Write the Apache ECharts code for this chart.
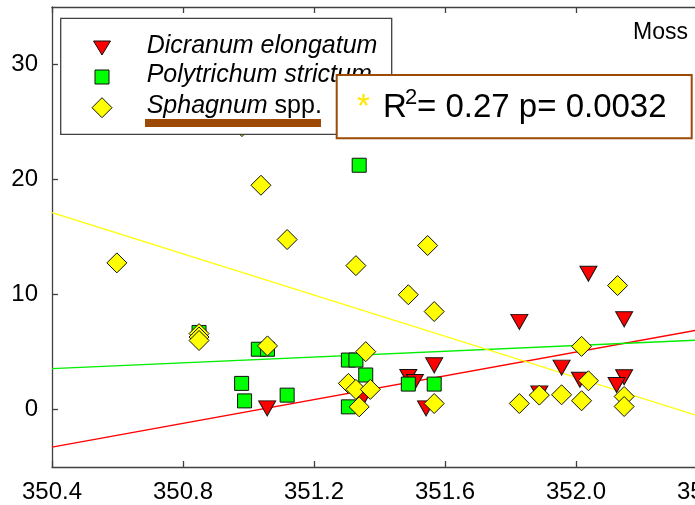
<!DOCTYPE html>
<html>
<head>
<meta charset="utf-8">
<script src="https://cdn.jsdelivr.net/npm/echarts@6/dist/echarts.min.js"></script>
<style>
  html, body { margin: 0; padding: 0; background: #fff; }
  #chart { width: 695px; height: 505px; }
</style>
</head>
<body>
<div id="chart"></div>
<script>
// Axis ticks
const xTicks = [350.4, 350.8, 351.2, 351.6, 352.0, 352.4];
const yTicks = [0, 10, 20, 30];

// Moss cover per species: [x, cover]
const dicranum = [
  [351.057, 0.1], [351.35, 1.0], [351.488, 2.82], [351.508, 2.39],
  [351.567, 3.84], [351.542, 0.1], [351.827, 7.62], [351.956, 3.64],
  [352.038, 11.8], [352.147, 7.84], [352.012, 2.59], [352.147, 2.81],
  [352.124, 2.13], [351.888, 1.4]
];
const polytrichum = [
  [350.849, 6.7], [351.03, 5.24], [351.058, 5.24], [350.979, 2.27],
  [350.988, 0.75], [351.118, 1.25], [351.338, 21.24], [351.305, 4.3],
  [351.328, 4.3], [351.358, 3.0], [351.305, 0.23], [351.488, 2.21],
  [351.567, 2.21]
];
const sphagnum = [
  [350.598, 12.75], [350.849, 6.6], [350.849, 6.3], [350.849, 6.0],
  [350.98, 24.6], [351.038, 19.5], [351.058, 5.53], [351.118, 14.78],
  [351.328, 12.51], [351.358, 5.03], [351.305, 2.27], [351.328, 1.75],
  [351.372, 1.75], [351.338, 0.23], [351.488, 9.98], [351.547, 14.26],
  [351.567, 8.52], [351.567, 0.52], [351.827, 0.52], [351.888, 1.25],
  [351.956, 1.28], [352.017, 0.76], [352.017, 5.49], [352.038, 2.5],
  [352.127, 10.78], [352.147, 1.13], [352.147, 0.26]
];

// Linear fits (end points)
const fitDicranum = [[350.4, -3.28], [352.4, 7.06]];
const fitPolytrichum = [[350.4, 3.55], [352.4, 6.07]];
const fitSphagnum = [[350.4, 17.12], [352.4, -0.8]];

const FONT = '"Liberation Sans", Arial, sans-serif';
const AXIS = '#404040';

const chart = echarts.init(document.getElementById('chart'), null, { renderer: 'canvas' });

function fitLine(data, color) {
  return {
    type: 'line', data: data, showSymbol: false, silent: true, z: 1,
    lineStyle: { color: color, width: 1.3 }, animation: false
  };
}
function scatter(data, symbol, size, color, rotate) {
  return {
    type: 'scatter', data: data, symbol: symbol, symbolSize: size,
    symbolRotate: rotate || 0, z: 2, animation: false,
    itemStyle: { color: color, borderColor: '#111', borderWidth: 1, opacity: 1 }
  };
}

chart.setOption({
  animation: false,
  backgroundColor: '#fff',
  grid: { left: 52, right: -12, top: 7, bottom: 38, containLabel: false, outerBoundsMode: 'none' },
  xAxis: [{
    type: 'value', min: 350.4, max: 352.4, position: 'bottom',
    axisLine: { show: true, onZero: false, lineStyle: { color: AXIS, width: 1.3 } },
    axisTick: { show: true, inside: true, length: 6, customValues: xTicks, lineStyle: { color: AXIS, width: 1.3 } },
    axisLabel: {
      customValues: xTicks, margin: 13, color: '#000', fontSize: 24, fontFamily: FONT,
      formatter: v => v.toFixed(1)
    },
    splitLine: { show: false }
  }, {
    type: 'value', min: 350.4, max: 352.4, position: 'top',
    axisLine: { show: true, onZero: false, lineStyle: { color: AXIS, width: 1.3 } },
    axisTick: { show: true, inside: true, length: 6, customValues: xTicks, lineStyle: { color: AXIS, width: 1.3 } },
    axisLabel: { show: false },
    splitLine: { show: false }
  }],
  yAxis: {
    type: 'value', min: -5, max: 35,
    axisLine: { show: true, onZero: false, lineStyle: { color: AXIS, width: 1.3 } },
    axisTick: { show: true, inside: true, length: 6, customValues: yTicks, lineStyle: { color: AXIS, width: 1.3 } },
    axisLabel: { customValues: yTicks, margin: 14, color: '#000', fontSize: 24, fontFamily: FONT },
    splitLine: { show: false }
  },
  series: [
    fitLine(fitDicranum, '#ff0000'),
    fitLine(fitPolytrichum, '#00ee00'),
    fitLine(fitSphagnum, '#ffff00'),
    scatter(dicranum, 'triangle', [17, 15], '#ff0000', 180),
    scatter(polytrichum, 'rect', 14, '#00ff00'),
    scatter(sphagnum, 'diamond', 20, '#ffff00')
  ],
  graphic: [
    // legend frame
    { type: 'rect', z: 100, shape: { x: 60.7, y: 18.3, width: 331, height: 116 },
      style: { fill: '#fff', stroke: AXIS, lineWidth: 1.3 } },
    { type: 'polygon', z: 101, shape: { points: [[93.5, 41], [110.5, 41], [102, 55]] },
      style: { fill: '#ff0000', stroke: '#111', lineWidth: 1 } },
    { type: 'rect', z: 101, shape: { x: 95, y: 70, width: 14, height: 14 },
      style: { fill: '#00ff00', stroke: '#111', lineWidth: 1 } },
    { type: 'polygon', z: 101, shape: { points: [[102, 97.7], [112, 107.7], [102, 117.7], [92, 107.7]] },
      style: { fill: '#ffff00', stroke: '#111', lineWidth: 1 } },
    { type: 'text', z: 101, x: 146.7, y: 46,
      style: { text: 'Dicranum elongatum', fontSize: 25, fontStyle: 'italic', fontFamily: FONT, fill: '#000', verticalAlign: 'middle' } },
    { type: 'text', z: 101, x: 146.7, y: 75,
      style: { text: 'Polytrichum strictum', fontSize: 25, fontStyle: 'italic', fontFamily: FONT, fill: '#000', verticalAlign: 'middle' } },
    { type: 'text', z: 101, x: 146.7, y: 106.5,
      style: {
        text: '{i|Sphagnum} spp.', fontSize: 25, fontFamily: FONT, fill: '#000', verticalAlign: 'middle',
        rich: { i: { fontSize: 25, fontStyle: 'italic', fontFamily: FONT, fill: '#000' } }
      } },
    { type: 'rect', z: 102, shape: { x: 145, y: 119, width: 176, height: 8 },
      style: { fill: '#9c4a06' } },
    // statistics box
    { type: 'rect', z: 103, shape: { x: 336.7, y: 75, width: 355, height: 63.3 },
      style: { fill: '#fff', stroke: '#9c4a06', lineWidth: 2 } },
    { type: 'text', z: 104, x: 357, y: 108,
      style: { text: '*', fontSize: 33, fontFamily: FONT, fill: '#ffe600', verticalAlign: 'middle' } },
    { type: 'text', z: 104, x: 383, y: 108,
      style: { text: 'R', fontSize: 33, fontFamily: FONT, fill: '#000', verticalAlign: 'middle' } },
    { type: 'text', z: 104, x: 405, y: 98,
      style: { text: '2', fontSize: 22, fontFamily: FONT, fill: '#000', verticalAlign: 'middle' } },
    { type: 'text', z: 104, x: 417, y: 108,
      style: { text: '= 0.27 p= 0.0032', fontSize: 33, fontFamily: FONT, fill: '#000', verticalAlign: 'middle' } },
    // panel title
    { type: 'text', z: 101, x: 633, y: 33,
      style: { text: 'Moss', fontSize: 23, fontFamily: FONT, fill: '#000', verticalAlign: 'middle' } }
  ]
});
</script>
</body>
</html>
